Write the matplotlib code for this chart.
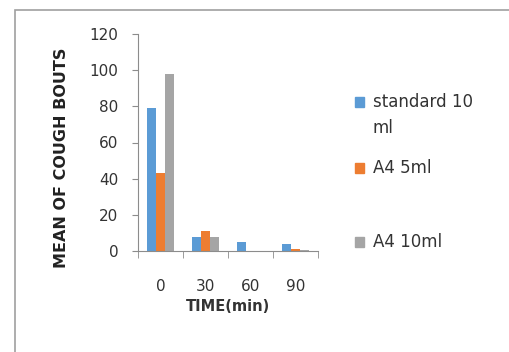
import numpy as np
import matplotlib.pyplot as plt
from matplotlib.patches import Rectangle

# Chart data
times = ['0', '30', '60', '90']
series_names = ['standard 10\nml', 'A4 5ml', 'A4 10ml']
standard_10ml = [79, 8, 5, 4]
a4_5ml = [43, 11, 0, 1]
a4_10ml = [98, 8, 0, 0.3]
colors = ['#5B9BD5', '#ED7D31', '#A5A5A5']

plt.rcParams['font.family'] = 'DejaVu Sans'
axis_grey = '#8C8C8C'

fig = plt.figure(figsize=(5.09, 3.52), dpi=100)
ax = fig.add_axes([138 / 509, 1 - 251 / 352, 180 / 509, 217 / 352])

# outer chart frame
fig.patches.append(Rectangle((15 / 509, -0.1), 1.1, 1.1 - 10 / 352,
                             transform=fig.transFigure, fill=False,
                             edgecolor='#A0A0A0', linewidth=1.2))

x = np.arange(len(times))
w = 0.205
all_series = [standard_10ml, a4_5ml, a4_10ml]
for i, vals in enumerate(all_series):
    ax.bar(x + (i - 1) * w, vals, width=w, color=colors[i])

ax.set_xlim(-0.5, len(times) - 0.5)
ax.set_ylim(0, 120)
ax.set_yticks(range(0, 121, 20))
ax.tick_params(axis='y', labelsize=11, length=4, pad=10, color=axis_grey,
               labelcolor='#333333')
ax.set_xticks(x)
ax.set_xticklabels(times)
ax.tick_params(axis='x', which='major', length=0, pad=20, labelsize=11,
               labelcolor='#333333')
ax.set_xticks(np.arange(len(times) + 1) - 0.5, minor=True)
ax.tick_params(axis='x', which='minor', length=5, color=axis_grey)

for s in ['top', 'right']:
    ax.spines[s].set_visible(False)
for s in ['left', 'bottom']:
    ax.spines[s].set_color(axis_grey)

ax.set_xlabel('TIME(min)', fontsize=10.5, fontweight='bold', labelpad=4,
              color='#333333')
fig.text(62 / 509, 1 - 158 / 352, 'MEAN OF COUGH BOUTS', rotation=90,
         fontsize=11.5, fontweight='bold', ha='center', va='center',
         color='#222222')

# legend, laid out like the original
legend_y = [102, 168, 242]
for name, c, yy in zip(series_names, colors, legend_y):
    fig.patches.append(Rectangle((355 / 509, 1 - (yy + 5) / 352), 9 / 509, 10 / 352,
                                 transform=fig.transFigure, color=c))
    fig.text(373 / 509, 1 - (yy - 9) / 352, name, fontsize=12, va='top',
             color='#333333', linespacing=1.6)

fig.savefig('out.png', dpi=100)
